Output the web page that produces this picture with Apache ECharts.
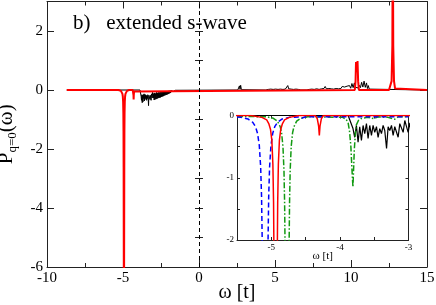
<!DOCTYPE html>
<html><head><meta charset="utf-8">
<script src="https://cdn.jsdelivr.net/npm/echarts@6/dist/echarts.min.js"></script>
<style>html,body{margin:0;padding:0;background:#fff}#c{width:436px;height:305px}</style>
</head><body><div id="c"></div>
<script>
// ---------- data ----------
const mainXTicks = [-10, -5, 0, 5, 10, 15];
const mainYTicks = [-6, -4, -2, 0, 2];
const insetXTicks = [-5, -4, -3];
const insetYTicks = [-2, -1, 0];
const titleText = 'b)   extended s-wave';

// black curve  [omega, P]
const blackPts = [
[-8.7,0],[-3.88,0],
[-3.857,-0.02],[-3.809,-0.21],[-3.784,-0.35],[-3.759,-0.16],[-3.735,-0.43],[-3.711,-0.18],[-3.686,-0.40],
[-3.662,-0.16],[-3.638,-0.29],[-3.613,-0.13],[-3.589,-0.37],[-3.565,-0.16],[-3.54,-0.32],[-3.516,-0.16],
[-3.492,-0.27],[-3.467,-0.18],[-3.443,-0.35],[-3.419,-0.21],[-3.394,-0.29],[-3.37,-0.16],[-3.346,-0.24],
[-3.32,-0.53],[-3.297,-0.18],[-3.273,-0.24],[-3.248,-0.16],[-3.224,-0.32],[-3.2,-0.18],[-3.176,-0.21],
[-3.151,-0.35],[-3.127,-0.13],[-3.103,-0.16],[-3.078,-0.27],[-3.054,-0.08],[-3.029,-0.18],[-3.005,-0.27],
[-2.98,-0.12],[-2.95,-0.34],[-2.92,-0.1],[-2.89,-0.32],[-2.86,-0.12],[-2.83,-0.31],[-2.8,-0.08],[-2.77,-0.3],
[-2.74,-0.1],[-2.71,-0.28],[-2.68,-0.08],[-2.65,-0.27],[-2.62,-0.09],[-2.59,-0.26],[-2.56,-0.07],[-2.53,-0.25],
[-2.5,-0.08],[-2.47,-0.23],[-2.44,-0.06],[-2.41,-0.22],[-2.38,-0.07],[-2.35,-0.21],[-2.32,-0.05],[-2.29,-0.19],
[-2.26,-0.06],[-2.23,-0.18],[-2.2,-0.05],[-2.17,-0.17],[-2.14,-0.04],[-2.11,-0.16],[-2.08,-0.04],[-2.05,-0.14],
[-2.02,-0.03],[-1.99,-0.13],[-1.96,-0.03],[-1.93,-0.11],[-1.9,-0.02],[-1.87,-0.1],[-1.84,-0.02],[-1.81,-0.08],
[-1.78,-0.02],[-1.75,-0.07],[-1.72,-0.01],[-1.69,-0.05],[-1.65,-0.01],[-1.6,-0.03],[-1.55,-0.01],[-1.5,0],
[2.55,0],[2.62,0.03],[2.66,0.14],[2.7,0.02],[2.74,0.16],[2.79,0.01],[2.85,0],
[4.4,0],[4.48,0.05],[4.56,0.02],[4.64,0.06],[4.72,0.03],[4.8,0.07],[4.88,0.02],[4.96,0.05],[5.04,0.03],
[5.12,0.06],[5.2,0.02],[5.28,0.07],[5.36,0.03],[5.44,0.05],[5.52,0.02],[5.6,0.06],[5.68,0.03],[5.76,0.07],
[5.84,0.15],[5.9,0.04],[5.98,0.08],[6.06,0.03],[6.14,0.06],[6.22,0.02],[6.3,0.07],[6.38,0.03],[6.46,0.05],
[6.54,0.02],[6.62,0.03],[6.7,0],
[7.1,0],[7.18,0.04],[7.26,0.02],[7.34,0.07],[7.42,0.03],[7.5,0.06],[7.58,0.02],[7.66,0.08],[7.74,0.04],
[7.82,0.06],[7.9,0.02],[7.98,0.07],[8.06,0.04],[8.14,0.1],[8.22,0.05],[8.3,0.12],[8.38,0.04],[8.46,0.09],
[8.54,0.05],[8.62,0.11],[8.7,0.04],[8.78,0.08],[8.86,0.03],[8.94,0.07],[9.02,0.05],[9.1,0.1],[9.18,0.04],
[9.26,0.09],[9.34,0.05],[9.42,0.12],[9.5,0.06],[9.58,0.1],[9.66,0.04],[9.74,0.13],[9.82,0.07],[9.9,0.15],
[9.98,0.06],[10.06,0.22],[10.14,0.08],[10.22,0.24],[10.3,0.09],[10.38,0.14],[10.46,0.07],[10.54,0.16],
[10.62,0.08],[10.7,0.26],[10.78,0.1],[10.86,0.3],[10.94,0.09],[11.02,0.24],[11.08,0.05],[11.14,0.15],
[11.2,0.03],[11.26,0],[15,0]
];

// red curve
const redPts = [
[-8.7,0],[-5.3,0],[-5.137,-0.03],[-5.067,-0.07],[-5.037,-0.13],[-5.012,-0.22],[-4.992,-0.4],[-4.977,-0.78],
[-4.967,-1.4],[-4.959,-2.6],[-4.937,-9],[-4.915,-2.6],[-4.907,-1.4],[-4.897,-0.78],[-4.882,-0.4],[-4.862,-0.22],
[-4.837,-0.13],[-4.807,-0.07],[-4.737,-0.03],[-4.6,0],
[-4.36,0],[-4.33,-0.05],[-4.31,-0.17],[-4.3,-0.32],[-4.29,-0.17],[-4.27,-0.05],[-4.24,0],
[10.25,0],[10.3,0.3],[10.33,0.95],[10.38,0.6],[10.43,0.98],[10.47,0.3],[10.52,0],
[12.5,0],[12.6,0.05],[12.67,0.3],[12.72,1.5],[12.75,6],[12.78,1.5],[12.83,0.3],[12.9,0.05],[13.0,0],[15,0]
];

// blue dashed curve (inset)
const bluePts = [
[-5.5,-0.025],[-5.44,-0.03],[-5.34,-0.056],[-5.27,-0.11],[-5.23,-0.18],[-5.2,-0.29],[-5.175,-0.48],
[-5.155,-0.83],[-5.142,-1.3],[-5.13,-2.2],[-5.09,-9],[-5.05,-2.2],[-5.038,-1.3],[-5.025,-0.83],[-5.005,-0.48],
[-4.98,-0.29],[-4.95,-0.18],[-4.91,-0.11],[-4.84,-0.056],[-4.74,-0.03],[-4.6,-0.025],[-4.55,-0.04],
[-4.5,-0.02],[-3,-0.02]
];

// green dash-dot curve (inset)
const greenPts = [
[-5.5,-0.015],[-5.07,-0.02],[-4.97,-0.045],[-4.91,-0.09],[-4.87,-0.18],[-4.85,-0.28],[-4.83,-0.5],
[-4.815,-0.89],[-4.806,-1.4],[-4.799,-2.15],[-4.77,-9],[-4.741,-2.15],[-4.734,-1.4],[-4.725,-0.89],
[-4.71,-0.5],[-4.69,-0.28],[-4.67,-0.18],[-4.63,-0.09],[-4.57,-0.045],[-4.47,-0.02],[-3.96,-0.03],
[-3.91,-0.06],[-3.88,-0.12],[-3.86,-0.25],[-3.84,-0.5],[-3.825,-0.85],[-3.81,-1.15],[-3.8,-0.85],
[-3.79,-0.55],[-3.775,-0.3],[-3.76,-0.15],[-3.73,-0.08],[-3.69,-0.05],[-3.6,-0.03],[-3.5,-0.05],
[-3.45,-0.02],[-3.3,-0.03],[-3.2,-0.06],[-3.15,-0.02],[-3,-0.02]
];

// ---------- chart ----------
const FONT = '"Liberation Serif","Times New Roman",serif';
const AX = '#222';
const chart = echarts.init(document.getElementById('c'), null, {renderer: 'canvas'});

function inList(list) { return v => (list.some(t => Math.abs(t - v) < 1e-9) ? String(v) : ''); }

function axisBase(extra) {
  return Object.assign({
    type: 'value',
    splitLine: {show: false},
    axisLine: {show: true, onZero: false, lineStyle: {color: AX, width: 1}},
    axisTick: {show: true, inside: true, length: 7, lineStyle: {color: AX, width: 1}},
    axisLabel: {show: false},
  }, extra);
}

const option = {
  animation: false,
  backgroundColor: '#fff',
  title: {
    text: titleText, left: 68, top: 8,
    textStyle: {fontFamily: FONT, fontSize: 21, fontWeight: 'normal', color: '#000'}
  },
  grid: [
    {left: 47, right: 9, top: 1.5, bottom: 38, containLabel: false, outerBoundsMode: 'none'},
    {left: 237, top: 115.5, width: 171.5, height: 124.5, containLabel: false, outerBoundsMode: 'none',
     show: true, backgroundColor: '#fff', borderWidth: 0}
  ],
  xAxis: [
    axisBase({gridIndex: 0, position: 'bottom', min: -10, max: 15, interval: 5,
      minorTick: {show: true, splitNumber: 2, length: 4, lineStyle: {color: AX}},
      axisLabel: {show: true, fontFamily: FONT, fontSize: 15, color: '#000', margin: 4, formatter: inList(mainXTicks)},
      name: 'ω [t]', nameLocation: 'middle', nameGap: 16, nameMoveOverlap: false,
      nameTextStyle: {fontFamily: FONT, fontSize: 20, color: '#000'}}),
    axisBase({gridIndex: 0, position: 'top', min: -10, max: 15, interval: 5,
      minorTick: {show: true, splitNumber: 2, length: 4, lineStyle: {color: AX}}}),
    axisBase({gridIndex: 1, position: 'bottom', min: -5.5, max: -3, interval: 0.5,
      axisTick: {show: true, inside: true, length: 3, lineStyle: {color: AX}},
      axisLabel: {show: true, fontFamily: FONT, fontSize: 9, color: '#000', margin: 3, formatter: inList(insetXTicks)},
      name: 'ω [t]', nameLocation: 'middle', nameGap: 11, nameMoveOverlap: false,
      nameTextStyle: {fontFamily: FONT, fontSize: 11, color: '#000'}}),
    axisBase({gridIndex: 1, position: 'top', min: -5.5, max: -3, interval: 0.5,
      axisTick: {show: true, inside: true, length: 3, lineStyle: {color: AX}}})
  ],
  yAxis: [
    axisBase({gridIndex: 0, position: 'left', min: -6, max: 3, interval: 2,
      axisLabel: {show: true, fontFamily: FONT, fontSize: 15, color: '#000', margin: 4, formatter: inList(mainYTicks)},
      name: '{a|P}{b|q=0}{a|(ω)}', nameLocation: 'middle', nameGap: 28,
      nameTextStyle: {color: '#000', rich: {
        a: {fontFamily: FONT, fontSize: 21, color: '#000'},
        b: {fontFamily: FONT, fontSize: 13, color: '#000', padding: [12, 0, 0, 0]}
      }}}),
    axisBase({gridIndex: 0, position: 'left', min: -6, max: 3, interval: 1,
      axisLine: {show: false}, axisTick: {show: true, inside: true, length: 4, lineStyle: {color: AX}}}),
    axisBase({gridIndex: 0, position: 'right', min: -6, max: 3, interval: 2}),
    axisBase({gridIndex: 0, position: 'right', min: -6, max: 3, interval: 1,
      axisLine: {show: false}, axisTick: {show: true, inside: true, length: 4, lineStyle: {color: AX}}}),
    axisBase({gridIndex: 1, position: 'left', min: -2, max: 0, interval: 0.5,
      axisTick: {show: true, inside: true, length: 3, lineStyle: {color: AX}},
      axisLabel: {show: true, fontFamily: FONT, fontSize: 9, color: '#000', margin: 3, formatter: inList(insetYTicks)}}),
    axisBase({gridIndex: 1, position: 'right', min: -2, max: 0, interval: 0.5,
      axisTick: {show: true, inside: true, length: 3, lineStyle: {color: AX}}})
  ],
  series: [
    {type: 'line', xAxisIndex: 0, yAxisIndex: 0, data: blackPts, showSymbol: false, symbol: 'none',
     lineStyle: {color: '#000', width: 1}, z: 2,
     markLine: {silent: true, symbol: ['none', 'none'], label: {show: false},
       lineStyle: {color: '#000', width: 1, type: [4, 3]}, data: [{xAxis: 0}]}},
    {type: 'line', xAxisIndex: 0, yAxisIndex: 0, data: redPts, showSymbol: false, symbol: 'none',
     lineStyle: {color: '#ff0000', width: 2}, z: 3},
    {type: 'line', xAxisIndex: 2, yAxisIndex: 4, data: blackPts, showSymbol: false, symbol: 'none',
     lineStyle: {color: '#000', width: 1.2}, z: 4},
    {type: 'line', xAxisIndex: 2, yAxisIndex: 4, data: greenPts, showSymbol: false, symbol: 'none',
     lineStyle: {color: '#129a12', width: 1.5, type: [6, 2, 1.5, 2]}, z: 5},
    {type: 'line', xAxisIndex: 2, yAxisIndex: 4, data: bluePts, showSymbol: false, symbol: 'none',
     lineStyle: {color: '#0000ff', width: 1.5, type: [5, 3]}, z: 6},
    {type: 'line', xAxisIndex: 2, yAxisIndex: 4, data: redPts, showSymbol: false, symbol: 'none',
     lineStyle: {color: '#ff0000', width: 1.5}, z: 7}
  ]
};
chart.setOption(option);
</script>
</body></html>
